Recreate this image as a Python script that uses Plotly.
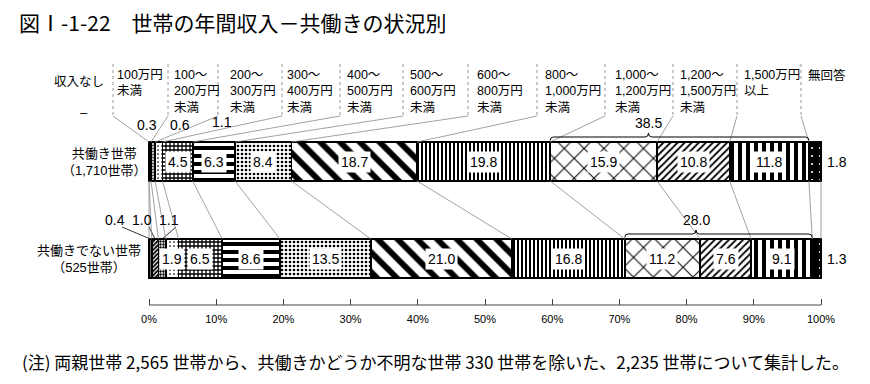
import plotly.graph_objects as go

# ---------------- data ----------------
title_text = "図Ⅰ-1-22　世帯の年間収入－共働きの状況別"
note_text = "(注) 両親世帯 2,565 世帯から、共働きかどうか不明な世帯 330 世帯を除いた、2,235 世帯について集計した。"

rows = ["共働き世帯", "共働きでない世帯"]
row_counts = ["（1,710世帯）", "（525世帯）"]

categories = ["収入なし", "100万円未満", "100〜200万円未満", "200〜300万円未満",
              "300〜400万円未満", "400〜500万円未満", "500〜600万円未満",
              "600〜800万円未満", "800〜1,000万円未満", "1,000〜1,200万円未満",
              "1,200〜1,500万円未満", "1,500万円以上", "無回答"]
header_labels = ["収入なし", "100万円<br>未満", "100〜<br>200万円<br>未満", "200〜<br>300万円<br>未満",
                 "300〜<br>400万円<br>未満", "400〜<br>500万円<br>未満", "500〜<br>600万円<br>未満",
                 "600〜<br>800万円<br>未満", "800〜<br>1,000万円<br>未満", "1,000〜<br>1,200万円<br>未満",
                 "1,200〜<br>1,500万円<br>未満", "1,500万円<br>以上", "無回答"]

dual_income = [0.0, 0.3, 0.6, 1.1, 4.5, 6.3, 8.4, 18.7, 19.8, 15.9, 10.8, 11.8, 1.8]
not_dual = [0.4, 1.0, 1.1, 1.9, 6.5, 8.6, 13.5, 21.0, 16.8, 11.2, 7.6, 9.1, 1.3]
over_10m_totals = [38.5, 28.0]

tick_values = [0, 10, 20, 30, 40, 50, 60, 70, 80, 90, 100]
tick_labels = ["0%", "10%", "20%", "30%", "40%", "50%", "60%", "70%", "80%", "90%", "100%"]

# ---------------- styles ----------------
patterns = [
    dict(shape="|", size=4, solidity=0.3, fgcolor="black", bgcolor="white"),
    dict(shape="/", size=3, solidity=0.6, fgcolor="black", bgcolor="white"),
    dict(shape=".", size=3, solidity=0.5, fgcolor="black", bgcolor="white"),
    dict(shape=".", size=4, solidity=0.15, fgcolor="black", bgcolor="white"),
    dict(shape="+", size=4, solidity=0.55, fgcolor="black", bgcolor="white"),
    dict(shape="-", size=8, solidity=0.5, fgcolor="black", bgcolor="white"),
    dict(shape=".", size=4, solidity=0.35, fgcolor="black", bgcolor="white"),
    dict(shape="\\", size=14, solidity=0.42, fgcolor="black", bgcolor="white"),
    dict(shape="|", size=4, solidity=0.5, fgcolor="black", bgcolor="white"),
    dict(shape="x", size=14, solidity=0.14, fgcolor="black", bgcolor="white"),
    dict(shape="/", size=5, solidity=0.35, fgcolor="black", bgcolor="white"),
    dict(shape="|", size=8, solidity=0.5, fgcolor="black", bgcolor="white"),
    dict(shape=".", size=8, solidity=0.06, fgcolor="white", bgcolor="black"),
]

FONT = "Liberation Sans, Noto Sans CJK JP"
JFONT = "Noto Sans CJK JP"
W, H = 870, 384
X0_PX, PX_PER_PCT = 149, 6.72
ROW_GAP_PX, BOTTOM_ROW_PX = 97, 258.5
BAR_W = 39 / ROW_GAP_PX
GREY = "#8a8a8a"


def X(px):
    return (px - X0_PX) / PX_PER_PCT


def Y(py):
    return (BOTTOM_ROW_PX - py) / ROW_GAP_PX


def cum(vals):
    out = [0.0]
    for v in vals:
        out.append(out[-1] + v)
    return out


series = [dual_income, not_dual]
row_pos = [1, 0]

fig = go.Figure()
for i, cat in enumerate(categories):
    pat = dict(patterns[i], fgopacity=1)
    fig.add_trace(go.Bar(
        x=[dual_income[i], not_dual[i]], y=rows, orientation="h", name=cat,
        width=BAR_W,
        marker=dict(color="white", pattern=pat, line=dict(color="black", width=1.7)),
        showlegend=False, hoverinfo="x+name",
    ))

shapes = []
ann = []

# value labels
small_top_px = {1: (147, 125), 2: (180, 125), 3: (222, 122)}
small_bot_px = {0: (115, 220), 1: (142, 220), 2: (169, 220)}
for r, vals in enumerate(series):
    c = cum(vals)
    yp = row_pos[r]
    for i, v in enumerate(vals):
        mid = (c[i] + c[i + 1]) / 2
        if i == len(vals) - 1:
            ann.append(dict(x=X(837), y=yp, text=f"{v:.1f}", showarrow=False,
                            font=dict(size=14, family=FONT, color="black")))
        elif v < 1.5:
            if v == 0:
                continue
            pos = (small_top_px if r == 0 else small_bot_px)[i]
            ann.append(dict(x=X(pos[0]), y=Y(pos[1]), text=f"{v:.1f}", showarrow=False,
                            font=dict(size=14, family=FONT, color="black")))
            if r == 1:
                shapes.append(dict(type="line", x0=X(pos[0] + 7), y0=Y(pos[1] + 7),
                                   x1=mid, y1=yp + BAR_W / 2,
                                   line=dict(color="black", width=0.8)))
        else:
            ann.append(dict(x=mid, y=yp, text=f"{v:.1f}", showarrow=False,
                            bgcolor="white", borderpad=2,
                            font=dict(size=14, family=FONT, color="black")))

# header labels and leader lines
header_left_px = [52, 115, 172, 228, 285, 345, 408, 475, 543, 613, 678, 742, 806]
sep_px = [None, 113, 168, 218, 282, 340, 403, 468, 537, 605, 673, 737, 801]
c_top = cum(dual_income)
c_bot = cum(not_dual)
for i, lab in enumerate(header_labels):
    ann.append(dict(x=X(header_left_px[i]), y=Y(66 if i else 73), text=lab, showarrow=False,
                    xanchor="left", yanchor="top", align="left",
                    font=dict(size=12.5, family=FONT, color="black")))
    if sep_px[i] is not None:
        shapes.append(dict(type="line", x0=X(sep_px[i]), y0=Y(64), x1=X(sep_px[i]), y1=Y(116),
                           line=dict(color=GREY, width=0.9, dash="dot")))
        shapes.append(dict(type="line", x0=X(sep_px[i]), y0=Y(116), x1=c_top[i], y1=1 + BAR_W / 2,
                           line=dict(color=GREY, width=0.8)))
ann.append(dict(x=X(84), y=Y(112), text="–" if dual_income[0] == 0 else f"{dual_income[0]:.1f}",
                showarrow=False, font=dict(size=13, family=FONT, color="black")))

# connecting lines between bars
for k in range(len(c_top)):
    shapes.append(dict(type="line", x0=c_top[k], y0=1 - BAR_W / 2, x1=c_bot[k], y1=BAR_W / 2,
                       line=dict(color=GREY, width=0.8)))

# brackets for 1,000万円以上
for r, vals in enumerate(series):
    c = cum(vals)
    x1, x2 = c[9], c[12]
    yp = row_pos[r] + BAR_W / 2
    y_end = yp + 1.5 / ROW_GAP_PX
    y_line = yp + 5 / ROW_GAP_PX
    y_peak = yp + 9 / ROW_GAP_PX
    xp = x1 + 0.38 * (x2 - x1)
    d = 0.5
    path = (f"M {x1},{y_end} Q {x1},{y_line} {x1 + d},{y_line} L {xp - d},{y_line} "
            f"Q {xp},{y_line} {xp},{y_peak} Q {xp},{y_line} {xp + d},{y_line} "
            f"L {x2 - d},{y_line} Q {x2},{y_line} {x2},{y_end}")
    shapes.append(dict(type="path", path=path, line=dict(color="black", width=1)))
    ann.append(dict(x=xp, y=y_peak, text=f"{over_10m_totals[r]:.1f}", showarrow=False,
                    yanchor="bottom", font=dict(size=14, family=FONT, color="black")))

# row labels
row_center_px = [104, 89]
for r, name in enumerate(rows):
    ann.append(dict(x=X(row_center_px[r]), y=row_pos[r], text=f"{name}<br>{row_counts[r]}",
                    showarrow=False, align="center",
                    font=dict(size=13, family=FONT, color="black")))

# axis baseline
shapes.append(dict(type="line", x0=tick_values[0], y0=Y(305), x1=tick_values[-1], y1=Y(305),
                   line=dict(color="#444", width=1)))

# title and note
ann.append(dict(xref="paper", yref="paper", x=17 / W, y=1 - 22 / H, xanchor="left", yanchor="middle",
                text=title_text, showarrow=False, font=dict(size=21, family=JFONT, color="black")))
ann.append(dict(xref="paper", yref="paper", x=20 / W, y=1 - 361 / H, xanchor="left", yanchor="middle",
                text=note_text, showarrow=False, font=dict(size=17, family=JFONT, color="black")))

fig.update_layout(
    width=W, height=H, margin=dict(l=0, r=0, t=0, b=0),
    barmode="stack", paper_bgcolor="white", plot_bgcolor="white",
    shapes=shapes, annotations=ann,
    xaxis=dict(range=[X(0), X(W)], showgrid=False, zeroline=False, showline=False,
               tickvals=tick_values, ticktext=tick_labels, ticks="inside", ticklen=6,
               tickcolor="#444", anchor="free", position=1 - 305 / H, ticklabelstandoff=6,
               tickfont=dict(size=11, family="Liberation Sans Narrow, Liberation Sans", color="black"),
               fixedrange=True),
    yaxis=dict(type="category", categoryorder="array", categoryarray=[rows[1], rows[0]],
               range=[Y(H), Y(0)], showgrid=False, zeroline=False, showticklabels=False,
               ticks="", fixedrange=True),
)

fig.write_html("out.html")
